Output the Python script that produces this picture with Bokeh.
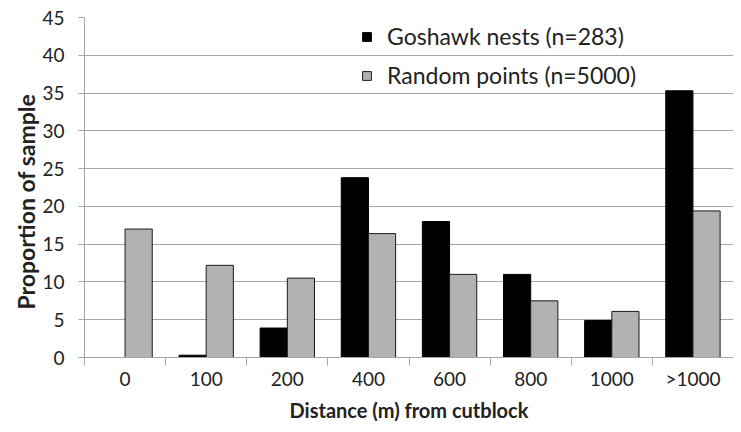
from bokeh.plotting import figure
from bokeh.models import Range1d, FixedTicker, Legend, LegendItem, ColumnDataSource, Title
from bokeh.transform import dodge
from bokeh.embed import file_html
from bokeh.resources import INLINE

categories = ["0", "100", "200", "400", "600", "800", "1000", ">1000"]
goshawk = [0.0, 0.3, 3.9, 23.8, 18.0, 11.0, 4.9, 35.3]
random_pts = [17.0, 12.2, 10.5, 16.4, 11.0, 7.5, 6.1, 19.4]
y_ticks = [0, 5, 10, 15, 20, 25, 30, 35, 40, 45]
series_labels = ["Goshawk nests (n=283)", "Random points (n=5000)"]

n = len(categories)
idx = list(range(n))
bar_w = 0.335
FONT = "Lato"
GRID = "#a6a6a6"
TXT = "#222222"

src = ColumnDataSource(dict(x=idx, gos=goshawk, rnd=random_pts))

p = figure(width=733, height=424, x_range=Range1d(-0.5, n - 0.5),
           y_range=Range1d(0, 45), output_backend="svg", toolbar_location=None,
           min_border_left=84, min_border_right=0, min_border_top=17,
           min_border_bottom=60)
p.outline_line_color = None
p.background_fill_color = "white"

r1 = p.vbar(x=dodge("x", -bar_w / 2, range=p.x_range), top="gos", width=bar_w,
            source=src, fill_color="#000000", line_color="#000000", line_width=1)
r2 = p.vbar(x=dodge("x", bar_w / 2, range=p.x_range), top="rnd", width=bar_w,
            source=src, fill_color="#b2b2b2", line_color="#1a1a1a", line_width=1)

# x axis
xa = p.xaxis[0]
xa.ticker = FixedTicker(ticks=idx, minor_ticks=[i - 0.5 for i in range(n + 1)])
xa.major_label_overrides = {i: c for i, c in zip(idx, categories)}
xa.major_tick_line_color = None
xa.major_tick_out = 0
xa.major_tick_in = 0
xa.minor_tick_line_color = GRID
xa.minor_tick_out = 8
xa.minor_tick_in = 0
xa.axis_line_color = GRID
xa.major_label_text_font = FONT
xa.major_label_text_font_size = "19px"
xa.major_label_text_color = TXT
xa.major_label_standoff = 1
xa.axis_label = "Distance (m) from cutblock"
xa.axis_label_text_font = FONT
xa.axis_label_text_font_style = "bold"
xa.axis_label_text_font_size = "20px"
xa.axis_label_text_color = TXT
xa.axis_label_standoff = 5

# y axis
ya = p.yaxis[0]
ya.ticker = FixedTicker(ticks=y_ticks)
ya.minor_tick_line_color = None
ya.major_tick_line_color = GRID
ya.major_tick_out = 6
ya.major_tick_in = 0
ya.axis_line_color = GRID
ya.major_label_text_font = FONT
ya.major_label_text_font_size = "19px"
ya.major_label_text_color = TXT
ya.major_label_standoff = 14

ytitle = Title(text="Proportion of sample", align="left", offset=48,
               text_font=FONT, text_font_style="bold", text_font_size="23px",
               text_color=TXT, standoff=0)
p.add_layout(ytitle, "left")

p.xgrid.visible = False
p.ygrid.grid_line_color = GRID
p.ygrid.grid_line_width = 1

legend = Legend(items=[LegendItem(label=series_labels[0], renderers=[r1]),
                       LegendItem(label=series_labels[1], renderers=[r2])],
                location=(277, 268), orientation="vertical")
legend.background_fill_alpha = 0
legend.border_line_color = None
legend.padding = 0
legend.margin = 0
legend.spacing = 11
legend.glyph_width = 11
legend.glyph_height = 11
legend.label_standoff = 15
legend.label_height = 26
legend.label_text_font = FONT
legend.label_text_font_size = "23px"
legend.label_text_color = TXT
p.add_layout(legend)

open("out.html", "w").write(file_html(p, INLINE))
